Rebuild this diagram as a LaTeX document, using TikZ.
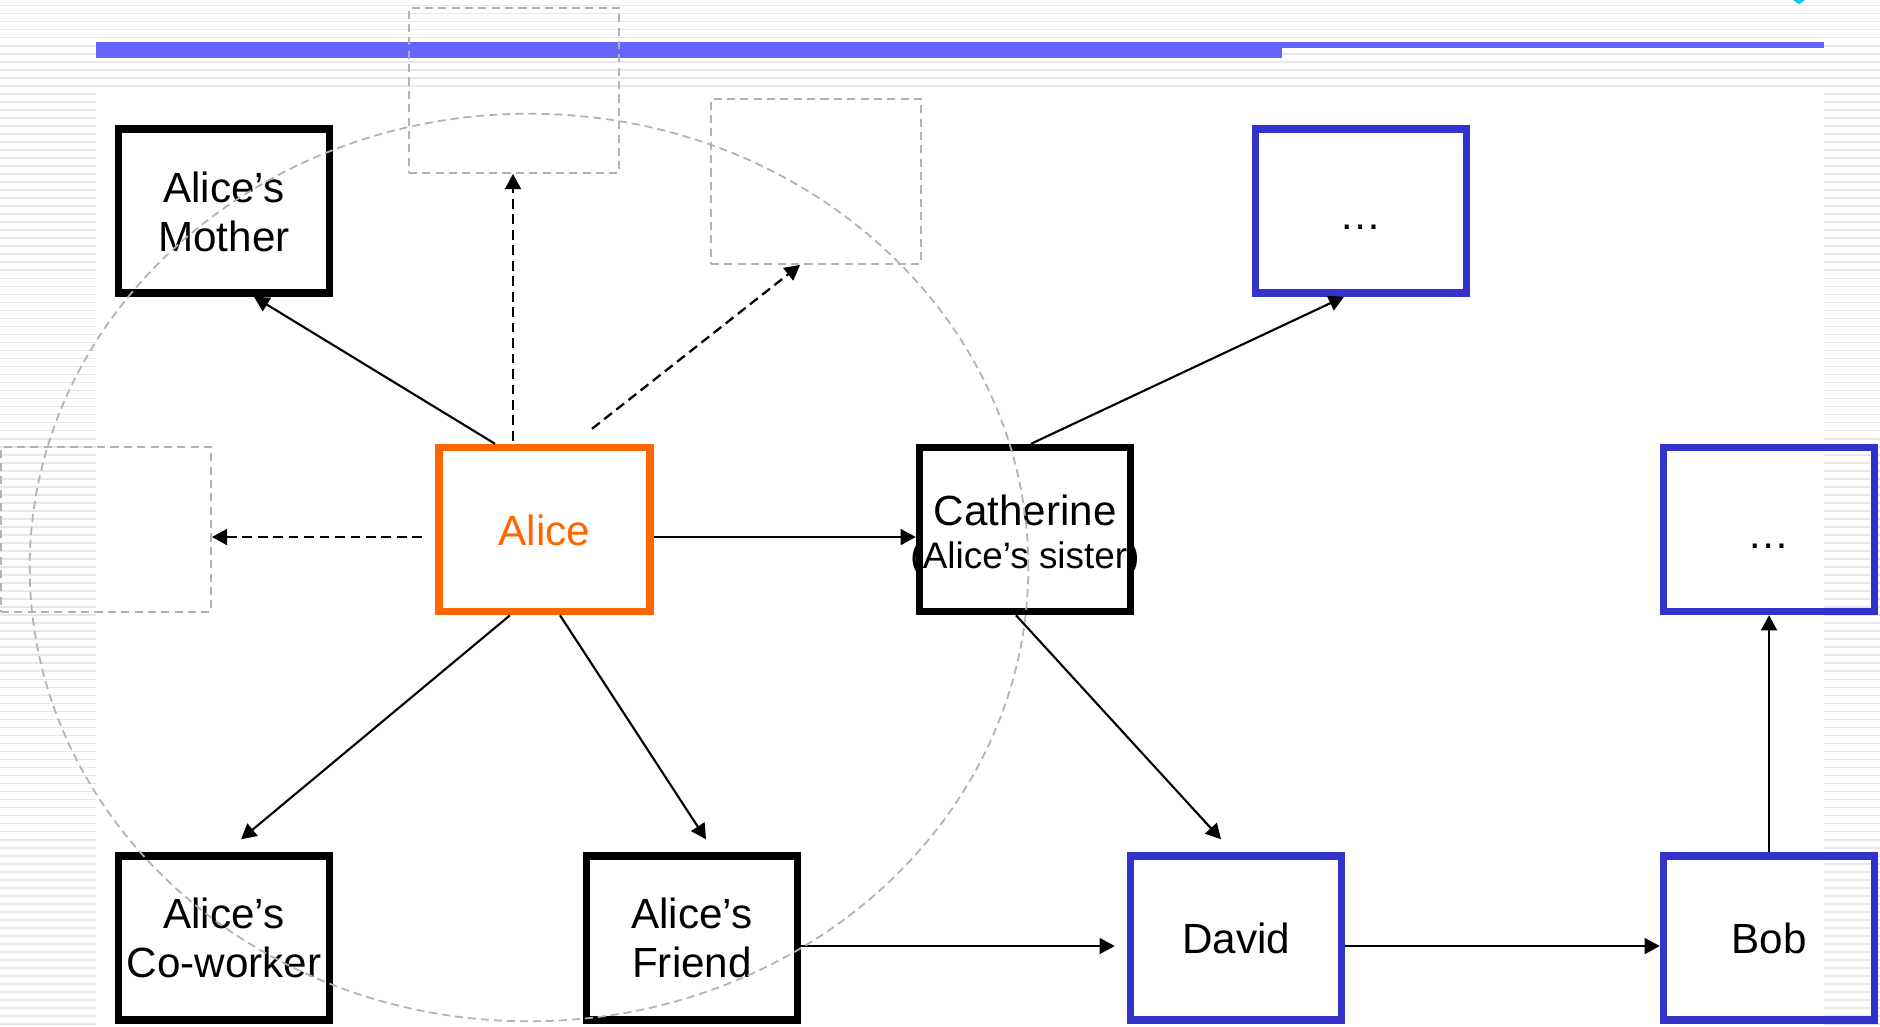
\documentclass[tikz,border=0pt]{standalone}
\usepackage{fontspec}
\setmainfont{Liberation Sans}
\usetikzlibrary{calc,arrows.meta}

\definecolor{barblue}{RGB}{102,102,255}
\definecolor{boxblue}{RGB}{51,51,204}
\definecolor{aliceorange}{RGB}{255,102,0}
\definecolor{guide}{RGB}{178,178,178}
\definecolor{stripe}{RGB}{231,231,231}
\definecolor{tipcyan}{RGB}{20,200,240}

\tikzset{
  person/.style={draw=black, line width=2.1pt, minimum width=2.11cm,
    minimum height=1.64cm, inner sep=0pt, align=center,
    font=\fontsize{12}{14}\selectfont},
  bluebox/.style={person, draw=boxblue},
  ghost/.style={draw=guide, line width=0.5pt, dash pattern=on 2.3pt off 1.5pt,
    minimum width=2.10cm, minimum height=1.65cm, inner sep=0pt},
  link/.style={line width=0.6pt, -{Triangle[length=4.3pt,width=4.5pt]}},
  maybe/.style={link, line width=0.65pt, dash pattern=on 2.8pt off 1.6pt},
}

\begin{document}
\begin{tikzpicture}[x=0.01cm, y=-0.01cm]
\useasboundingbox (0,0) rectangle (1880,1026);

% striped slide background and white content area
\foreach \i in {0,...,127}
  \fill[stripe] (0,{4.8+8.02*\i}) rectangle (1880,{6.4+8.02*\i});
\fill[white] (96,88) rectangle (1824,1026);

% title rule
\fill[barblue] (96,42) rectangle (1282,58);
\fill[barblue] (1282,42) rectangle (1824,48);
\fill[tipcyan] (1793,0) -- (1805,0) -- (1799,4.5) -- cycle;

% placeholder boxes
\node[ghost] (topdash) at (514,90.5) {};
\node[ghost] (rdash)   at (816,181.5) {};
\node[ghost] (ldash)   at (106,529.5) {};

% people
\node[person] (mother) at (224,211) {\rule{0pt}{9.2pt}Alice’s\\Mother};
\node[person, text=aliceorange, draw=aliceorange] (alice) at (544.5,529.5)
  {\rule{0pt}{9.2pt}Alice};
\node[person] (cath) at (1025,529.5) {};
\node[align=center, inner sep=0pt] (cathname) at ($(cath)+(0,6)$)
  {\fontsize{12}{12.4}\selectfont Catherine\\\fontsize{10.5}{12.4}\selectfont (Alice’s sister)};
\node[bluebox] (tr) at (1361,211) {\rule{0pt}{10.6pt}…};
\node[bluebox] (rb) at (1769,529.5) {\rule{0pt}{10.6pt}…};
\node[person] (cow)    at (224,938) {Alice’s\\Co-worker};
\node[person] (friend) at (692,938) {Alice’s\\Friend};
\node[bluebox] (david) at (1236,938) {David};
\node[bluebox] (bob)   at (1769,938) {Bob};

% relations
\draw[link] ($(alice.north)+(-49.5,0)$) -- ($(mother.south)+(30,0)$);
\draw[maybe] ($(alice.north)+(-31.5,-3)$) -- ($(topdash.south)+(-1,0)$);
\draw[maybe] ($(alice.north)+(47.5,-15)$) -- ($(rdash.south)+(-16,0)$);
\draw[maybe] ($(alice.west)+(-13,7.5)$) -- ($(ldash.east)+(0,7.5)$);
\draw[link] ($(alice.east)+(0,7.5)$) -- ($(cath.west)+(0,7.5)$);
\draw[link] ($(alice.south)+(-34.5,0)$) -- ($(cow.north)+(17,-13)$);
\draw[link] ($(alice.south)+(15.5,0)$) -- ($(friend.north)+(14,-13)$);
\draw[link] ($(cath.north)+(6,0)$) -- ($(tr.south)+(-17,0)$);
\draw[link] ($(cath.south)+(-9,0)$) -- ($(david.north)+(-15,-13)$);
\draw[link] ($(friend.east)+(0,8)$) -- ($(david.west)+(-12,8)$);
\draw[link] ($(david.east)+(0,8)$) -- ($(bob.west)+(0,8)$);
\draw[link] (bob.north) -- (rb.south);

% Alice's immediate circle
\draw[guide, line width=0.5pt, dash pattern=on 2.3pt off 1.4pt]
  (529,567.5) ellipse [x radius=4.99cm, y radius=4.535cm];
\end{tikzpicture}
\end{document}
